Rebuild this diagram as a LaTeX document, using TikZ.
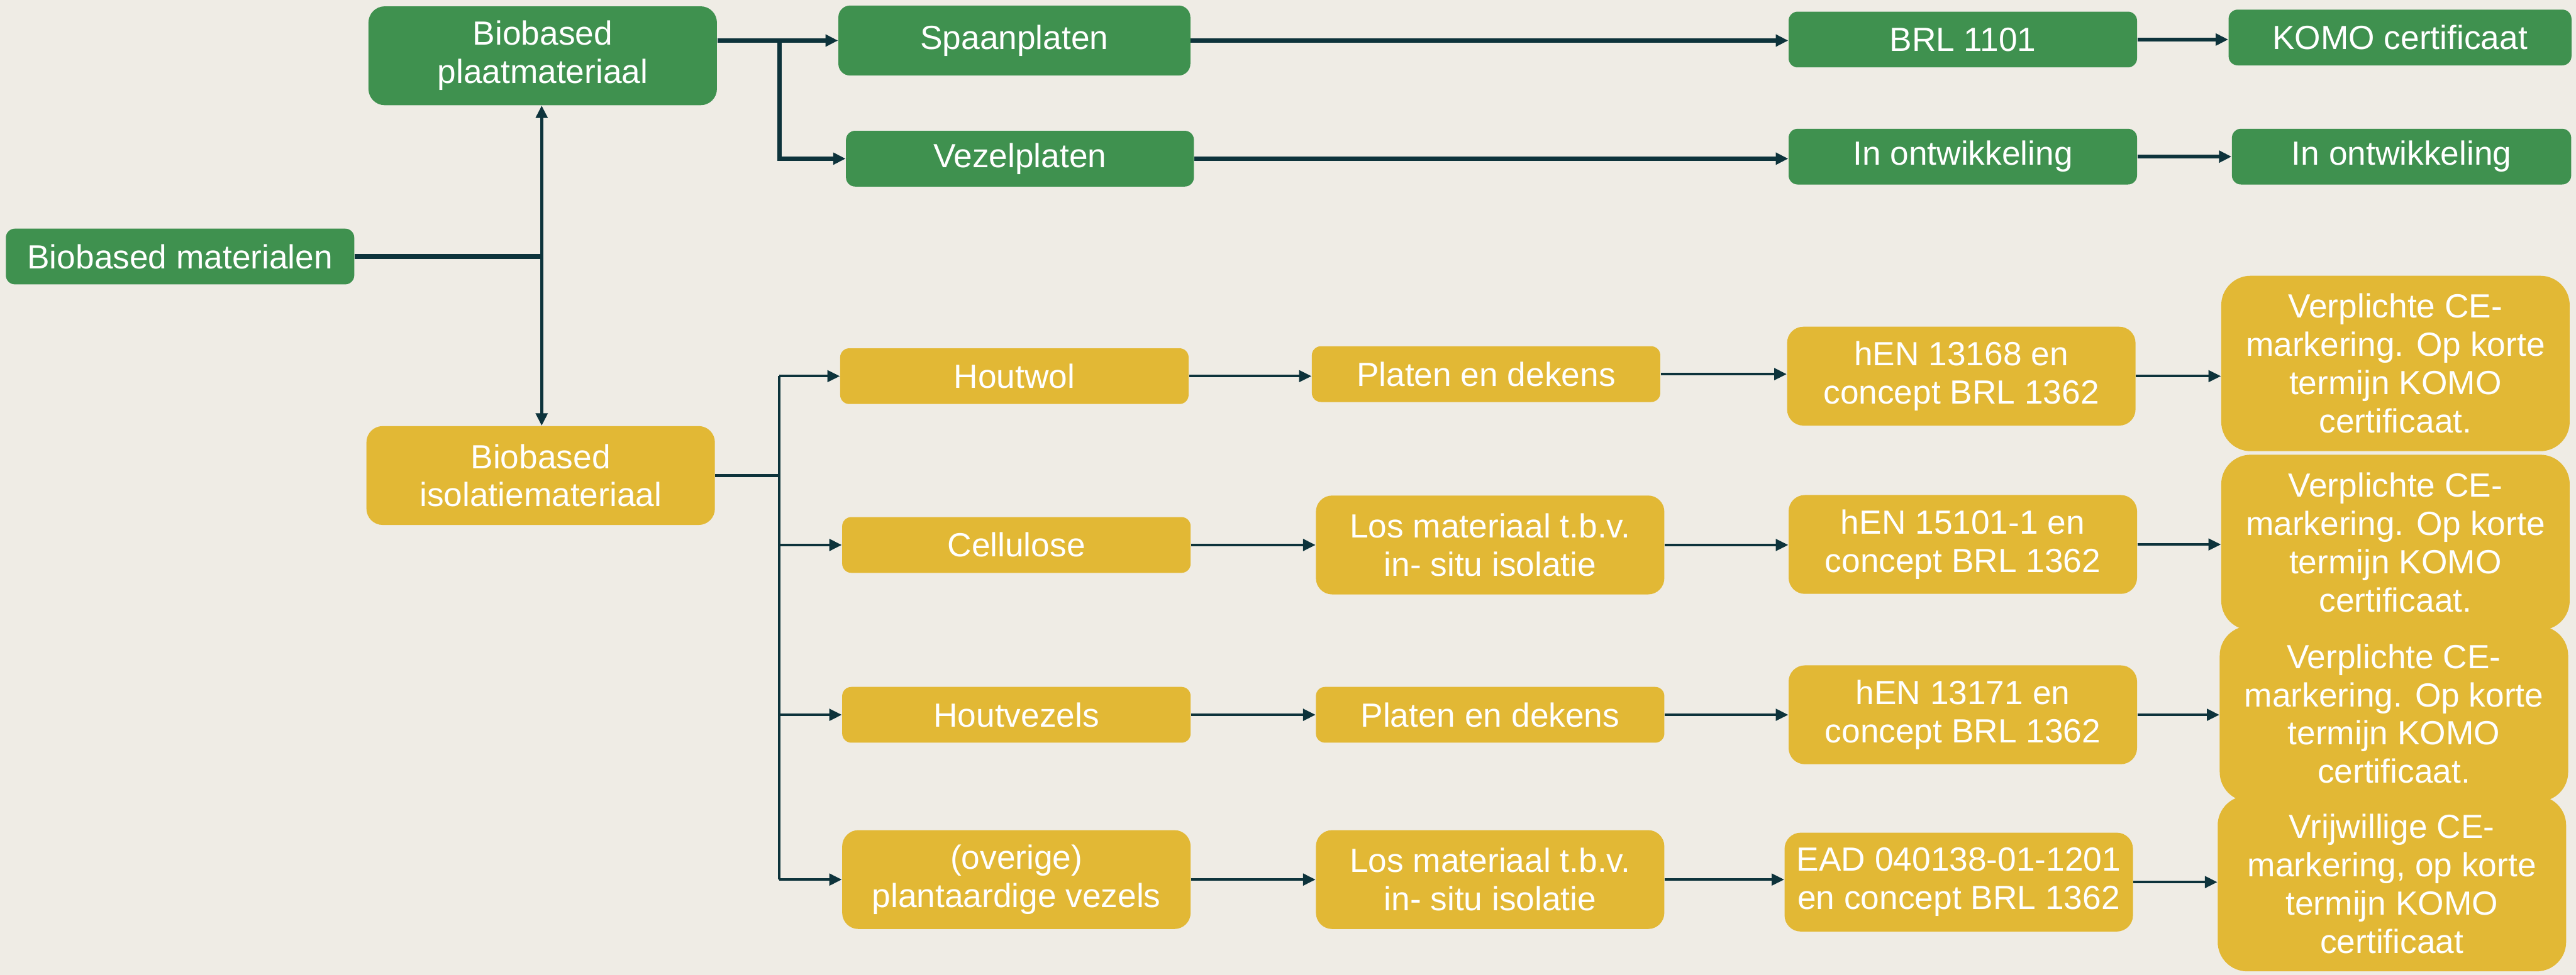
\documentclass[tikz,border=0pt]{standalone}
\usepackage{fontspec}
\setmainfont{Liberation Sans}
\usepackage{xcolor}
\usepackage{tikz}
\usetikzlibrary{positioning,arrows.meta,calc}

\definecolor{achtergrond}{HTML}{EFECE5}
\definecolor{groen}{HTML}{3F914F}
\definecolor{geel}{HTML}{E2B835}
\definecolor{lijn}{HTML}{0D333B}

\begin{document}
\begin{tikzpicture}[
  box/.style={rectangle,text=white,align=center,inner sep=0pt,minimum width=6.87cm,
    font=\fontsize{18.8}{21.5}\selectfont},
  greenbox/.style={box,fill=groen},
  yellowbox/.style={box,fill=geel},
  lowbox/.style={minimum height=1.10cm,rounded corners=0.18cm},
  midbox/.style={minimum height=1.95cm,rounded corners=0.32cm},
  highbox/.style={minimum height=3.46cm,rounded corners=0.58cm},
  link/.style={draw=lijn,line width=1.5pt,-{Triangle[length=7pt,width=6.5pt]}},
  glink/.style={link,line width=2.3pt}]

  % achtergrond
  \fill[achtergrond] (0,0) rectangle (50.79,19.23);
  \useasboundingbox (0,0) rectangle (50.79,19.23);

  % hoofdgroepen
  \node[greenbox,lowbox] (mat) at (3.55,14.17) {Biobased materialen};
  \node[greenbox,midbox] (plaat) at (10.70,18.13) {Biobased\\plaatmateriaal};
  \node[yellowbox,midbox] (iso) at (10.66,9.85) {Biobased\\isolatiemateriaal};

  % plaatmateriaal
  \node[greenbox,minimum height=1.38cm,rounded corners=0.23cm,minimum width=6.94cm] (spaan) at (20.00,18.43) {Spaanplaten};
  \node[greenbox,lowbox,minimum width=6.86cm] (vezel) at (20.11,16.10) {Vezelplaten};
  \node[greenbox,lowbox] (brl) at (38.70,18.45) {BRL 1101};
  \node[greenbox,lowbox,minimum width=6.76cm] (komo) at (47.32,18.49) {KOMO certificaat};
  \node[greenbox,lowbox] (ontw1) at (38.70,16.14) {In ontwikkeling};
  \node[greenbox,lowbox,minimum width=6.69cm] (ontw2) at (47.35,16.14) {In ontwikkeling};

  % isolatiemateriaal
  \node[yellowbox,lowbox] (houtwol) at (20.00,11.81) {Houtwol};
  \node[yellowbox,lowbox] (cellulose) at (20.04,8.48) {Cellulose};
  \node[yellowbox,lowbox] (houtvezels) at (20.04,5.13) {Houtvezels};
  \node[yellowbox,midbox] (overige) at (20.04,1.88) {(overige)\\plantaardige vezels};

  \node[yellowbox,lowbox] (platen1) at (29.30,11.85) {Platen en dekens};
  \node[yellowbox,midbox] (los1) at (29.38,8.48) {Los materiaal t.b.v.\\in- situ isolatie};
  \node[yellowbox,lowbox] (platen2) at (29.38,5.13) {Platen en dekens};
  \node[yellowbox,midbox] (los2) at (29.38,1.88) {Los materiaal t.b.v.\\in- situ isolatie};

  \node[yellowbox,midbox] (hen1) at (38.67,11.81) {hEN 13168 en\\concept BRL 1362};
  \node[yellowbox,midbox] (hen2) at (38.70,8.49) {hEN 15101-1 en\\concept BRL 1362};
  \node[yellowbox,midbox] (hen3) at (38.70,5.13) {hEN 13171 en\\concept BRL 1362};
  \node[yellowbox,midbox] (ead) at (38.62,1.83) {EAD 040138-01-1201\\en concept BRL 1362};

  \node[yellowbox,highbox] (verpl1) at (47.23,12.06) {Verplichte CE-\\markering. Op korte\\termijn KOMO\\certificaat.};
  \node[yellowbox,highbox] (verpl2) at (47.23,8.53) {Verplichte CE-\\markering. Op korte\\termijn KOMO\\certificaat.};
  \node[yellowbox,highbox] (verpl3) at (47.20,5.15) {Verplichte CE-\\markering. Op korte\\termijn KOMO\\certificaat.};
  \node[yellowbox,highbox] (vrij) at (47.16,1.80) {Vrijwillige CE-\\markering, op korte\\termijn KOMO\\certificaat};

  % vertakkingen
  \coordinate (jmat) at (10.68,14.17);
  \coordinate (jplaat) at (15.37,18.43);
  \coordinate (jiso) at (15.36,9.85);

  \draw[draw=lijn,line width=3pt] (mat.east) -- (jmat);
  \draw[link,line width=1.85pt] (jmat) -- (jmat |- plaat.south);
  \draw[link,line width=1.85pt] (jmat) -- (jmat |- iso.north);

  \draw[glink] (plaat.east |- spaan.west) -- (spaan.west);
  \draw[glink] (jplaat) |- (vezel.west);
  \draw[glink] (spaan.east) -- (spaan.east -| brl.west);
  \draw[glink] (brl.east) -- (brl.east -| komo.west);
  \draw[glink] (vezel.east) -- (vezel.east -| ontw1.west);
  \draw[glink] (ontw1.east) -- (ontw2.west);

  \draw[draw=lijn,line width=1.8pt] (iso.east) -- (jiso);
  \draw[draw=lijn,line width=1.5pt] (jiso |- houtwol) -- (jiso |- overige);
  \foreach \n in {houtwol,cellulose,houtvezels,overige}
    \draw[link] (jiso |- \n) -- (\n.west);

  % rijen
  \draw[link] (houtwol.east) -- (houtwol.east -| platen1.west);
  \draw[link] (platen1.east) -- (platen1.east -| hen1.west);
  \draw[link] (hen1.east) -- (hen1.east -| verpl1.west);
  \draw[link] (cellulose.east) -- (los1.west);
  \draw[link] (los1.east) -- (los1.east -| hen2.west);
  \draw[link] (hen2.east) -- (hen2.east -| verpl2.west);
  \draw[link] (houtvezels.east) -- (platen2.west);
  \draw[link] (platen2.east) -- (hen3.west);
  \draw[link] (hen3.east) -- (hen3.east -| verpl3.west);
  \draw[link] (overige.east) -- (los2.west);
  \draw[link] (los2.east) -- (los2.east -| ead.west);
  \draw[link] (ead.east) -- (ead.east -| vrij.west);
\end{tikzpicture}
\end{document}
